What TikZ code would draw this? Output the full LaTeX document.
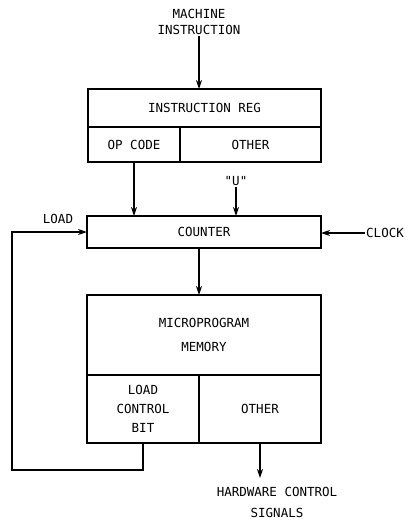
\documentclass[tikz,border=0pt]{standalone}
\usepackage{fontspec}
\setmonofont{DejaVu Sans Mono}
\usetikzlibrary{arrows.meta}
\begin{document}
\begin{tikzpicture}[x=1pt,y=-1pt,
  lbl/.style={font=\ttfamily\fontsize{12.5}{19}\selectfont,align=center,inner sep=1pt},
  blk/.style={draw,line width=1.3pt,inner sep=0pt,outer sep=0pt,font=\ttfamily\fontsize{12.5}{19}\selectfont,align=center},
  arr/.style={line width=1.3pt,-{Stealth[length=9pt,width=6pt]}}]
\useasboundingbox (0,0) rectangle (411,520);
\node[lbl,font=\ttfamily\fontsize{12.5}{16}\selectfont] (mi) at (199,22) {MACHINE\\INSTRUCTION};
\node[blk,minimum width=233pt,minimum height=38pt] (irtop) at (204.5,108) {INSTRUCTION REG};
\node[blk,minimum width=92pt,minimum height=35pt] (opcode) at (134,144.5) {OP CODE};
\node[blk,minimum width=141pt,minimum height=35pt] (irother) at (250.5,144.5) {OTHER};
\node[lbl] (u) at (236,181) {"U"};
\node[blk,minimum width=234pt,minimum height=32pt] (counter) at (204,232) {COUNTER};
\node[lbl] (load) at (58,219) {LOAD};
\node[lbl,anchor=west] (clock) at (365,233) {CLOCK};
\node[blk,minimum width=234pt,minimum height=80pt,font=\ttfamily\fontsize{12.5}{24}\selectfont] (mptop) at (204,335) {MICROPROGRAM\\MEMORY};
\node[blk,line width=1.8pt,minimum width=112pt,minimum height=68pt] (lcb) at (143,409) {LOAD\\CONTROL\\BIT};
\node[blk,minimum width=122pt,minimum height=68pt] (mpother) at (260,409) {OTHER};
\node[lbl,font=\ttfamily\fontsize{12.5}{21}\selectfont] (hw) at (277,502) {HARDWARE CONTROL\\SIGNALS};
\coordinate (lp) at (12,470);
\draw[arr] (mi.south) -- (mi.south |- irtop.north);
\draw[arr] (opcode.south) -- (opcode.south |- counter.north);
\draw[arr] (u.south) -- (u.south |- counter.north);
\draw[arr] (lcb.south) |- (lp) |- (counter.west);
\draw[arr] (clock.west) -- (clock.west -| counter.east);
\draw[arr] (counter.south -| mi) -- (mptop.north -| mi);
\draw[arr] (mpother.south) -- ++(0,35) coordinate (hwin);
\end{tikzpicture}
\end{document}
